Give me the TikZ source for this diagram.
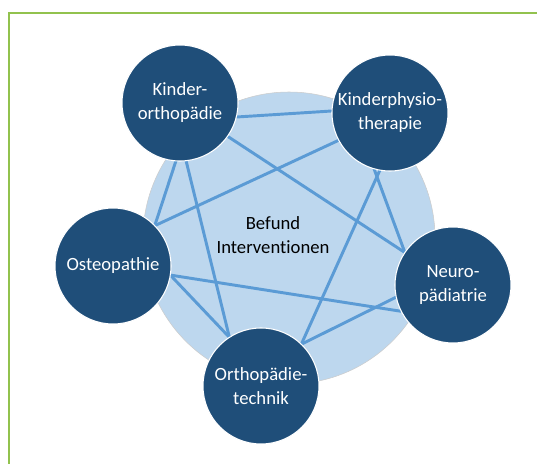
\documentclass[tikz,border=0pt]{standalone}
\usepackage{fontspec}
\setmainfont{Carlito}[Ligatures=NoCommon]
\usetikzlibrary{backgrounds}
\definecolor{specblue}{RGB}{31,78,121}
\definecolor{hubblue}{RGB}{189,215,238}
\definecolor{linkblue}{RGB}{91,155,213}
\definecolor{framegreen}{RGB}{146,194,78}
\tikzset{
  spec/.style={circle,fill=specblue,draw=white,line width=0.8pt,
    minimum size=87pt,inner sep=0pt,outer sep=0pt,text=white,align=center,
    font=\fontsize{14}{18}\selectfont},
  hub/.style={circle,fill=hubblue,draw=black!20,line width=0.4pt,
    minimum size=219pt,inner sep=0pt},
  link/.style={linkblue,line width=2.2pt},
  hublbl/.style={align=center,font=\fontsize{14}{18}\selectfont},
  framel/.style={framegreen,line width=1.5pt},
}

\begin{document}
\begin{tikzpicture}[x=0.75pt,y=-0.75pt]
  \useasboundingbox (0,0) rectangle (537,464);
  \draw[framel] (9,464) -- (9,13) -- (537,13);
  \node[spec] (nKO) at (180,103) {Kinder-\\orthopädie};
  \node[spec] (nKP) at (390,113) {Kinderphysio-\\therapie};
  \node[spec] (nOS) at (113,266) {Osteopathie};
  \node[spec] (nNP) at (453,285) {Neuro-\\pädiatrie};
  \node[spec] (nOT) at (261,386) {Orthopädie-\\technik};
  \begin{scope}[on background layer]
    \node[hub] (nHub) at (289,238) {};
    \draw[link] (nKO.-14.5) -- (nKP.178);
    \draw[link] (nKO.-35) -- (nNP.146.6);
    \draw[link] (nKO.-94) -- (nOS.44);
    \draw[link] (nKO.-84) -- (nOT.123);
    \draw[link] (nKP.208.7) -- (nOS.44);
    \draw[link] (nKP.-100) -- (nOT.46);
    \draw[link] (nKP.-106) -- (nNP.146.6);
    \draw[link] (nOS.-9) -- (nNP.207);
    \draw[link] (nOS.-9) -- (nOT.123);
    \draw[link] (nOT.46) -- (nNP.192);
  \end{scope}
  \node[hublbl] (nLbl) at (273,235) {Befund\\Interventionen};
\end{tikzpicture}
\end{document}
